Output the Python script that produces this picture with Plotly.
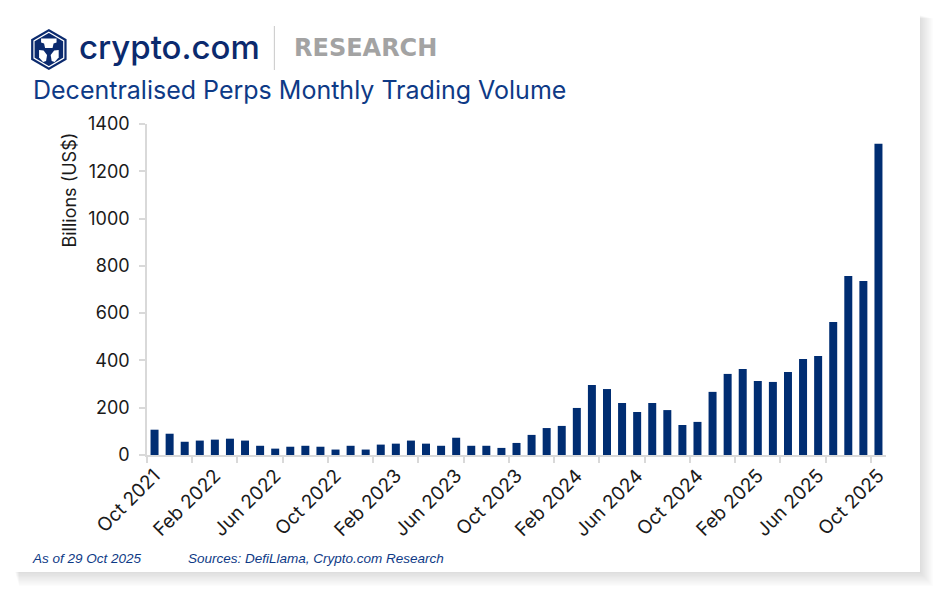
import pandas as pd
import plotly.graph_objects as go

# meses de oct 2021 a oct 2025
MONTHS = list(pd.date_range("2021-10-01", "2025-10-01", freq="MS").strftime("%b %Y"))

# volumen mensual (miles de millones US$)
VOLUME = [
    107, 90, 56, 61, 65, 69, 61, 39, 27, 35,
    39, 35, 23, 39, 23, 44, 48, 61, 48, 39,
    73, 39, 39, 30, 51, 85, 114, 123, 199, 296,
    279, 220, 182, 220, 190, 127, 140, 267, 343, 364,
    313, 309, 351, 406, 419, 563, 757, 736, 1316,
]

TICK_LABELS = [
    "Oct 2021", "Feb 2022", "Jun 2022", "Oct 2022", "Feb 2023", "Jun 2023",
    "Oct 2023", "Feb 2024", "Jun 2024", "Oct 2024", "Feb 2025", "Jun 2025",
    "Oct 2025",
]
Y_TICKS = [0, 200, 400, 600, 800, 1000, 1200, 1400]

# la página deja 8 px de margen, así que la figura arranca en (8, 8)
OFF = 8
W, H = 944 - OFF, 596 - OFF
ML, MR, MT, MB = 146.5 - OFF, 58, 124 - OFF, 141
PW = W - ML - MR
PH = H - MT - MB

NAVY = "#002D72"
TEXT_NAVY = "#0E3A86"
AXIS_GRAY = "#d9d9d9"


def px(x):
    # coordenada de pantalla -> paper
    return (x - OFF - ML) / PW


def py(y):
    return (H - MB - (y - OFF)) / PH


def path(points):
    pts = [f"{px(x):.5f},{py(y):.5f}" for x, y in points]
    return "M " + " L ".join(pts) + " Z"


def hexagon(cx, cy, r):
    k = 0.866 * r
    return [
        (cx, cy - r), (cx + k, cy - r / 2), (cx + k, cy + r / 2),
        (cx, cy + r), (cx - k, cy + r / 2), (cx - k, cy - r / 2),
    ]


x_idx = list(range(len(MONTHS)))
tick_idx = [MONTHS.index(t) for t in TICK_LABELS]

fig = go.Figure()
fig.add_trace(
    go.Bar(
        x=x_idx,
        y=VOLUME,
        marker_color=NAVY,
        marker_line_width=0,
        width=0.53,
        customdata=MONTHS,
        hovertemplate="%{customdata}: %{y}<extra></extra>",
        showlegend=False,
    )
)

shapes = []
# sombra de la tarjeta
for i in range(1, 12):
    shapes.append(dict(
        type="rect", xref="paper", yref="paper", layer="below",
        x0=px(14 + i * 0.4), x1=px(920 + i * 1.2),
        y0=py(15 + i * 0.3), y1=py(572 + i * 1.3),
        fillcolor="rgba(0,0,0,0.012)", line_width=0,
    ))
shapes.append(dict(
    type="rect", xref="paper", yref="paper", layer="below",
    x0=px(14), x1=px(920), y0=py(15), y1=py(572),
    fillcolor="white", line_width=0,
))

# logo
cx, cy = 48.3, 49.5
shapes.append(dict(type="path", xref="paper", yref="paper",
                   path=path(hexagon(cx, cy, 20.5)), fillcolor="#0B2A6E", line_width=0))
shapes.append(dict(type="path", xref="paper", yref="paper",
                   path=path(hexagon(cx, cy, 17.2)), fillcolor="rgba(0,0,0,0)",
                   line=dict(color="white", width=1.2)))
shapes.append(dict(type="path", xref="paper", yref="paper",
                   path=path([(40.5, 38.5), (56, 38.5), (56, 42.5), (53, 43.5), (52, 48),
                              (44.5, 48), (43.5, 43.5), (40.5, 42.5)]),
                   fillcolor="white", line_width=0))
shapes.append(dict(type="path", xref="paper", yref="paper",
                   path=path([(38.5, 50), (43, 50.5), (46.5, 55), (45.5, 61),
                              (42.5, 62), (38.5, 57.5)]),
                   fillcolor="white", line_width=0))
shapes.append(dict(type="path", xref="paper", yref="paper",
                   path=path([(58.1, 50), (53.6, 50.5), (50.1, 55), (51.1, 61),
                              (54.1, 62), (58.1, 57.5)]),
                   fillcolor="white", line_width=0))
# separador
shapes.append(dict(type="line", xref="paper", yref="paper",
                   x0=px(274), x1=px(274), y0=py(26), y1=py(70),
                   line=dict(color="#d0d0d0", width=1.2)))

annotations = [
    dict(text="crypto.com", x=px(76), y=py(47), xanchor="left", yanchor="middle",
         font=dict(family="Inter", size=33, color="#0B2A6E", weight=500)),
    dict(text="RESEARCH", x=px(292), y=py(48), xanchor="left", yanchor="middle",
         font=dict(family="DejaVu Sans", size=24, color="#a3a3a3", weight="bold")),
    dict(text="Decentralised Perps Monthly Trading Volume", x=px(30), y=py(90),
         xanchor="left", yanchor="middle",
         font=dict(family="Inter", size=25, color=TEXT_NAVY)),
    dict(text="Billions (US$)", x=px(68), y=py(190), xanchor="center", yanchor="middle",
         textangle=-90, font=dict(family="Inter", size=18, color="#1a1a1a")),
    dict(text="<i>As of 29 Oct 2025</i>", x=px(29), y=py(558), xanchor="left",
         yanchor="middle", font=dict(family="Liberation Sans", size=13.5, color=TEXT_NAVY)),
    dict(text="<i>Sources: DefiLlama, Crypto.com Research</i>", x=px(186), y=py(558),
         xanchor="left", yanchor="middle",
         font=dict(family="Liberation Sans", size=13.5, color=TEXT_NAVY)),
]
for a in annotations:
    a.update(xref="paper", yref="paper", showarrow=False)

fig.update_layout(
    width=W,
    height=H,
    margin=dict(l=ML, r=MR, t=MT, b=MB, pad=0),
    paper_bgcolor="white",
    plot_bgcolor="rgba(0,0,0,0)",
    font=dict(family="Inter", size=16, color="#1a1a1a"),
    shapes=shapes,
    annotations=annotations,
)

fig.update_xaxes(
    range=[-0.5, len(MONTHS) - 0.5],
    tickmode="array",
    tickvals=tick_idx,
    ticktext=TICK_LABELS,
    tickangle=-45,
    ticks="",
    showline=True,
    linecolor=AXIS_GRAY,
    linewidth=2,
    showgrid=False,
    zeroline=False,
    tickfont=dict(size=19, color="#1a1a1a"),
    minor=dict(tick0=-0.5, dtick=3, ticks="outside", ticklen=6,
               tickcolor=AXIS_GRAY, tickwidth=2, showgrid=False),
)
fig.update_yaxes(
    range=[0, 1400],
    tickmode="array",
    tickvals=Y_TICKS,
    ticks="outside",
    ticklen=6,
    tickcolor=AXIS_GRAY,
    tickwidth=1.5,
    showline=True,
    linecolor=AXIS_GRAY,
    linewidth=1.5,
    showgrid=False,
    zeroline=False,
    ticklabelstandoff=6,
    tickfont=dict(size=18, color="#1a1a1a"),
)

fig.write_html("out.html")
